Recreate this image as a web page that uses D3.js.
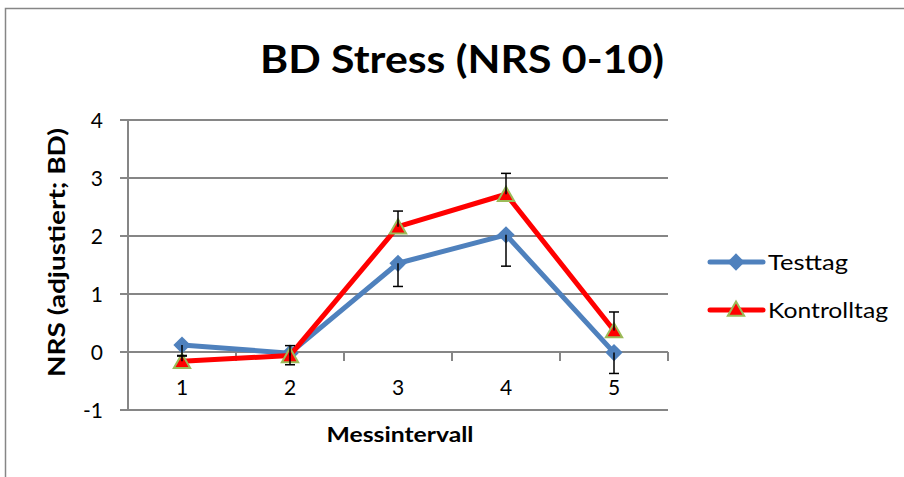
<!DOCTYPE html>
<meta charset="utf-8">
<style>
body { margin: 0; background: #fff; }
text { font-family: Lato, "Open Sans", sans-serif; fill: #000; }
.grid line { stroke: #868686; stroke-width: 2; }
</style>
<body>
<script src="https://d3js.org/d3.v7.min.js"></script>
<script>

// chart values
var categories = ["1", "2", "3", "4", "5"];
var testtag = [0.12, -0.02, 1.53, 2.02, -0.01];
var testtagErrMinus = [0.19, 0.20, 0.40, 0.54, 0.36];
var kontrolltag = [-0.16, -0.06, 2.16, 2.72, 0.37];
var kontrolltagErrPlus = [0.10, 0.17, 0.27, 0.36, 0.32];
var yTicks = [-1, 0, 1, 2, 3, 4];
var seriesNames = ["Testtag", "Kontrolltag"];

var W = 904, H = 477;
var plot = {left: 128, right: 668, top: 120, bottom: 410};

var svg = d3.select("body").append("svg")
    .attr("width", W)
    .attr("height", H);

// outer frame (only top and left visible)
svg.append("path")
    .attr("d", "M5.5," + H + "V8.5H" + W)
    .attr("fill", "none")
    .attr("stroke", "#868686")
    .attr("stroke-width", 1.5);

var x = d3.scaleBand().domain(categories).range([plot.left, plot.right]);
var y = d3.scaleLinear().domain([-1, 4]).range([plot.bottom, plot.top]);
var cx = function(i) { return x(categories[i]) + x.bandwidth() / 2; };

// horizontal gridlines + y ticks
var grid = svg.append("g").attr("class", "grid");
grid.selectAll("line")
    .data(yTicks)
  .enter().append("line")
    .attr("x1", plot.left - 8)
    .attr("x2", plot.right)
    .attr("y1", function(d) { return y(d); })
    .attr("y2", function(d) { return y(d); });

// y axis line
svg.append("line")
    .attr("x1", plot.left).attr("x2", plot.left)
    .attr("y1", plot.top).attr("y2", plot.bottom)
    .attr("stroke", "#868686").attr("stroke-width", 2);

// x axis ticks at the zero line
var xTickPos = categories.map(function(c) { return x(c); }).concat([plot.right]);
svg.selectAll(".xtick")
    .data(xTickPos)
  .enter().append("line")
    .attr("x1", function(d) { return d; })
    .attr("x2", function(d) { return d; })
    .attr("y1", y(0))
    .attr("y2", y(0) + 9)
    .attr("stroke", "#868686").attr("stroke-width", 2);

// y tick labels
svg.selectAll(".ylab")
    .data(yTicks)
  .enter().append("text")
    .attr("x", plot.left - 25)
    .attr("y", function(d) { return y(d); })
    .attr("dy", "0.36em")
    .attr("text-anchor", "end")
    .style("font-size", "21px")
    .text(function(d) { return d; });

// x tick labels
svg.selectAll(".xlab")
    .data(categories)
  .enter().append("text")
    .attr("x", function(d, i) { return cx(i); })
    .attr("y", 395)
    .attr("text-anchor", "middle")
    .style("font-size", "21px")
    .text(function(d) { return d; });

// title
svg.append("text")
    .attr("x", 462)
    .attr("y", 73)
    .attr("text-anchor", "middle")
    .attr("textLength", 404)
    .attr("lengthAdjust", "spacingAndGlyphs")
    .style("font-size", "38px")
    .style("font-weight", "bold")
    .text("BD Stress (NRS 0-10)");

// axis titles
svg.append("text")
    .attr("x", 400)
    .attr("y", 442)
    .attr("text-anchor", "middle")
    .attr("textLength", 147)
    .attr("lengthAdjust", "spacingAndGlyphs")
    .style("font-size", "21px")
    .style("font-weight", "bold")
    .text("Messintervall");

svg.append("text")
    .attr("transform", "translate(65,252.5) rotate(-90)")
    .attr("text-anchor", "middle")
    .attr("textLength", 249)
    .attr("lengthAdjust", "spacingAndGlyphs")
    .style("font-size", "22px")
    .style("font-weight", "bold")
    .text("NRS (adjustiert; BD)");

var line = d3.line()
    .x(function(d, i) { return cx(i); })
    .y(function(d) { return y(d); });

var diamond = d3.symbol().type(d3.symbolDiamond2).size(190);
var triangle = d3.symbol().type(d3.symbolTriangle2).size(190);

// Testtag
svg.append("path")
    .datum(testtag)
    .attr("d", line)
    .attr("fill", "none")
    .attr("stroke", "#4F81BD")
    .attr("stroke-width", 5)
    .attr("stroke-linejoin", "round");

svg.selectAll(".dia")
    .data(testtag)
  .enter().append("path")
    .attr("d", diamond)
    .attr("transform", function(d, i) { return "translate(" + cx(i) + "," + y(d) + ")"; })
    .attr("fill", "#4F81BD");

// Kontrolltag
svg.append("path")
    .datum(kontrolltag)
    .attr("d", line)
    .attr("fill", "none")
    .attr("stroke", "#FF0000")
    .attr("stroke-width", 5)
    .attr("stroke-linejoin", "round");

svg.selectAll(".tri")
    .data(kontrolltag)
  .enter().append("path")
    .attr("d", triangle)
    .attr("transform", function(d, i) { return "translate(" + cx(i) + "," + (y(d) + 2) + ")"; })
    .attr("fill", "#FF0000")
    .attr("stroke", "#9BBB59")
    .attr("stroke-width", 2);

// error bars
function errBar(g, xi, v0, v1) {
  g.append("line")
    .attr("x1", cx(xi)).attr("x2", cx(xi))
    .attr("y1", y(v0)).attr("y2", y(v1));
  g.append("line")
    .attr("x1", cx(xi) - 5).attr("x2", cx(xi) + 5)
    .attr("y1", y(v1)).attr("y2", y(v1));
}
var eb = svg.append("g").attr("stroke", "#000").attr("stroke-width", 1.5);
testtag.forEach(function(v, i) { errBar(eb, i, v, v - testtagErrMinus[i]); });
kontrolltag.forEach(function(v, i) { errBar(eb, i, v, v + kontrolltagErrPlus[i]); });

// legend
var legY = [262, 310];
var legWidth = [80, 120];
var legColors = ["#4F81BD", "#FF0000"];
var leg = svg.selectAll(".leg")
    .data(seriesNames)
  .enter().append("g")
    .attr("transform", function(d, i) { return "translate(0," + legY[i] + ")"; });

leg.append("line")
    .attr("x1", 710).attr("x2", 763)
    .attr("stroke", function(d, i) { return legColors[i]; })
    .attr("stroke-width", 5)
    .attr("stroke-linecap", "round");

leg.append("path")
    .attr("d", function(d, i) { return i === 0 ? diamond() : triangle(); })
    .attr("transform", function(d, i) { return "translate(736," + (i === 0 ? 0 : 1) + ")"; })
    .attr("fill", function(d, i) { return legColors[i]; })
    .attr("stroke", function(d, i) { return i === 0 ? "none" : "#9BBB59"; })
    .attr("stroke-width", 2);

leg.append("text")
    .attr("x", 768)
    .attr("dy", "0.36em")
    .attr("textLength", function(d, i) { return legWidth[i]; })
    .attr("lengthAdjust", "spacingAndGlyphs")
    .style("font-size", "21px")
    .text(function(d) { return d; });

</script>
</body>
